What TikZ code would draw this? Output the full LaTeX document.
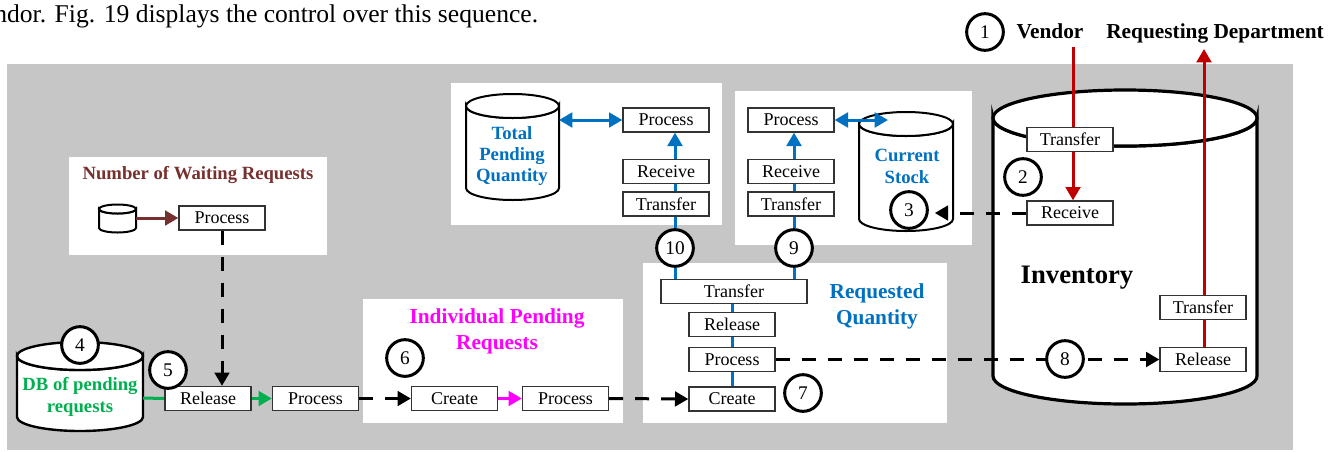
\documentclass[tikz,border=0pt]{standalone}
\usepackage{fontspec}
\setmainfont{Liberation Serif}
\usetikzlibrary{arrows.meta,calc}
\definecolor{bgray}{RGB}{198,198,198}
\definecolor{cblue}{RGB}{0,112,192}
\definecolor{cred}{RGB}{192,0,0}
\definecolor{cgreen}{RGB}{0,176,80}
\definecolor{cmag}{RGB}{255,0,255}
\definecolor{cmaroon}{RGB}{118,48,46}
\pgfdeclarelayer{bg}
\pgfdeclarelayer{mid}
\pgfsetlayers{bg,mid,main}
\newcommand\mycyl[6]{%
 \filldraw[fill=white,#1] ({#2-#5},#3) -- ({#2-#5},#4) arc[start angle=180,end angle=0,x radius=#5,y radius=#6] -- ({#2+#5},#3) arc[start angle=0,end angle=180,x radius=#5,y radius=#6] -- cycle;
 \filldraw[fill=white,#1] (#2,#3) ellipse[x radius=#5,y radius=#6];}
\begin{document}
\begin{tikzpicture}[x=0.75pt,y=-0.75pt,
  pbox/.style={draw=black!80,line width=1pt,fill=white,minimum width=64.5pt,minimum height=18pt,inner sep=0pt,font=\fontsize{13.5}{16}\selectfont},
  num/.style={circle,draw=black,line width=2.25pt,fill=white,minimum size=27.5pt,inner sep=0pt,font=\fontsize{14.5}{16}\selectfont},
  lab14/.style={font=\fontsize{14}{16}\selectfont\bfseries,align=center,inner sep=0pt},
  lab16/.style={font=\fontsize{16}{19.5}\selectfont\bfseries,align=center,inner sep=0pt},
  tip/.style={-{Triangle[length=10pt,width=11pt]}},
  dtip/.style={{Triangle[length=10pt,width=11pt]}-{Triangle[length=10pt,width=11pt]}},
  dline/.style={line width=2.25pt,dash pattern=on 10.5pt off 9pt},
  conn/.style={line width=2.25pt}
]
\path[clip] (0,0) rectangle (1338,451);

\begin{pgfonlayer}{bg}
\fill[bgray] (7,64) rectangle (1293,450);
\fill[white] (69,157) rectangle (327,255);
\fill[white] (451,83) rectangle (722,225);
\fill[white] (735,91) rectangle (972,245);
\fill[white] (363,299) rectangle (623,423);
\fill[white] (643,263) rectangle (947,423);
\mycyl{line width=2.4pt}{1125}{118}{376}{132}{28}
\mycyl{line width=1.5pt}{906}{124}{219}{47}{12}
\mycyl{line width=1.5pt}{512.5}{106}{188}{46.5}{12}
\mycyl{line width=1.8pt}{80}{356}{417}{63}{14}
\mycyl{line width=1.5pt}{117.5}{209}{228}{18.5}{4.5}
\end{pgfonlayer}

% caption
\node[anchor=base west,inner sep=0pt,font=\fontsize{19.2}{22}\selectfont] (cap) at (-6,22) {ndor. Fig. 19 displays the control over this sequence.};

% top labels
\node[num] (c1) at (985,32) {1};
\node[lab16,anchor=base] (ven) at (1050,38) {Vendor};
\node[lab16,anchor=base] (req) at (1215,38) {Requesting Department};
\coordinate (vtop) at (1073,47);
\coordinate (rtop) at (1204,49);

% inventory
\node[font=\fontsize{20}{24}\selectfont\bfseries,inner sep=0pt] (inv) at (1077,278) {Inventory};
\node[pbox] (invtr) at (1070,139.5) {Transfer};
\node[pbox] (invrc) at (1070,213) {Receive};
\node[pbox] (rdtr) at (1203,307.5) {Transfer};
\node[pbox] (rdrl) at (1203,359.5) {Release};

% current stock
\node[lab14,text=cblue] (cst) at (907,166.5) {Current\\Stock};
\node[pbox] (cspr) at (791,120) {Process};
\node[pbox] (csrc) at (791,171.5) {Receive};
\node[pbox] (cstr) at (791,204) {Transfer};
\coordinate (csin) at (888,120);

% total pending
\node[lab14,text=cblue] (tpq) at (512,156) {Total\\Pending\\Quantity};
\node[pbox] (tppr) at (666,120) {Process};
\node[pbox] (tprc) at (666,171.5) {Receive};
\node[pbox] (tptr) at (666,204) {Transfer};
\coordinate (tpin) at (559,120);

% requested quantity
\node[lab16,text=cblue] (rqt) at (877,306) {Requested\\Quantity};
\node[pbox,minimum width=109.5pt] (rqtr) at (734,291.5) {Transfer};
\node[pbox] (rqrl) at (732,324.5) {Release};
\node[pbox] (rqpr) at (732,359.5) {Process};
\node[pbox] (rqcr) at (732,399) {Create};

% individual pending
\node[lab16,text=cmag] (ipt) at (497,331) {Individual Pending\\Requests};
\node[pbox] (ipcr) at (454.5,398.5) {Create};
\node[pbox] (ippr) at (565.5,398.5) {Process};

% waiting requests
\node[lab14,text=cmaroon] (nwt) at (198,174.5) {Number of Waiting Requests};
\node[pbox] (nwpr) at (222,218) {Process};
\coordinate (nwc) at (136,218);

% DB
\node[lab14,text=cgreen] (dbt) at (80,397) {DB of pending\\requests};
\node[pbox] (lfrl) at (208,398.5) {Release};
\node[pbox] (lfpr) at (315.5,398.5) {Process};
\coordinate (dbr) at (143,398);

% numbered circles
\node[num] (c2) at (1023,177) {2};
\node[num] (c3) at (909,210) {3};
\node[num] (c4) at (80,345) {4};
\node[num] (c5) at (168,370) {5};
\node[num] (c6) at (405,358) {6};
\node[num] (c7) at (803,393) {7};
\node[num] (c8) at (1065,359) {8};
\node[num] (c9) at (794,248) {9};
\node[num] (c10) at (675,248) {10};

\begin{pgfonlayer}{mid}
% red
\draw[conn,cred] (vtop) -- (vtop |- invtr.north);
\draw[conn,cred,tip] (invtr.south -| vtop) -- (invrc.north -| vtop);
\draw[conn,cred,tip] (rdtr.north -| rtop) -- (rtop);
\draw[conn,cred] (rdrl.north -| rtop) -- (rdtr.south -| rtop);
% blue, current stock
\draw[conn,cblue,dtip] (cspr.east) -- (csin);
\draw[conn,cblue,tip] (csrc.north -| c9) -- (cspr.south -| c9);
\draw[conn,cblue] (cstr.north -| c9) -- (csrc.south -| c9);
\draw[conn,cblue] (c9.north) -- (cstr.south -| c9);
% blue, total pending
\draw[conn,cblue,dtip] (tpin) -- (tppr.west);
\draw[conn,cblue,tip] (tprc.north -| c10) -- (tppr.south -| c10);
\draw[conn,cblue] (tptr.north -| c10) -- (tprc.south -| c10);
\draw[conn,cblue] (c10.north) -- (tptr.south -| c10);
% blue, requested quantity
\draw[conn,cblue] (c10.south) -- (rqtr.north -| c10);
\draw[conn,cblue] (c9.south) -- (rqtr.north -| c9);
\draw[conn,cblue] (rqtr.south -| rqrl) -- (rqrl.north);
\draw[conn,cblue] (rqrl.south) -- (rqpr.north);
\draw[conn,cblue] (rqpr.south) -- (rqcr.north);
% dashed
\draw[dline,tip] (rqpr.east) -- (rdrl.west);
\draw[dline,tip,shorten >=4.5pt] (invrc.west) -- (invrc.west -| c3.east);
\draw[dline,tip] (nwpr.south) -- (lfrl.north -| nwpr);
\draw[dline,tip] (lfpr.east) -- (ipcr.west);
\draw[dline,tip] (ippr.east) -- (rqcr.west);
% colored
\draw[conn,cmag,tip] (ipcr.east) -- (ippr.west);
\draw[conn,cgreen] (dbr) -- (lfrl.west);
\draw[conn,cgreen,tip] (lfrl.east) -- (lfpr.west);
\draw[conn,cmaroon,tip] (nwc) -- (nwpr.west);
\end{pgfonlayer}
\end{tikzpicture}
\end{document}
